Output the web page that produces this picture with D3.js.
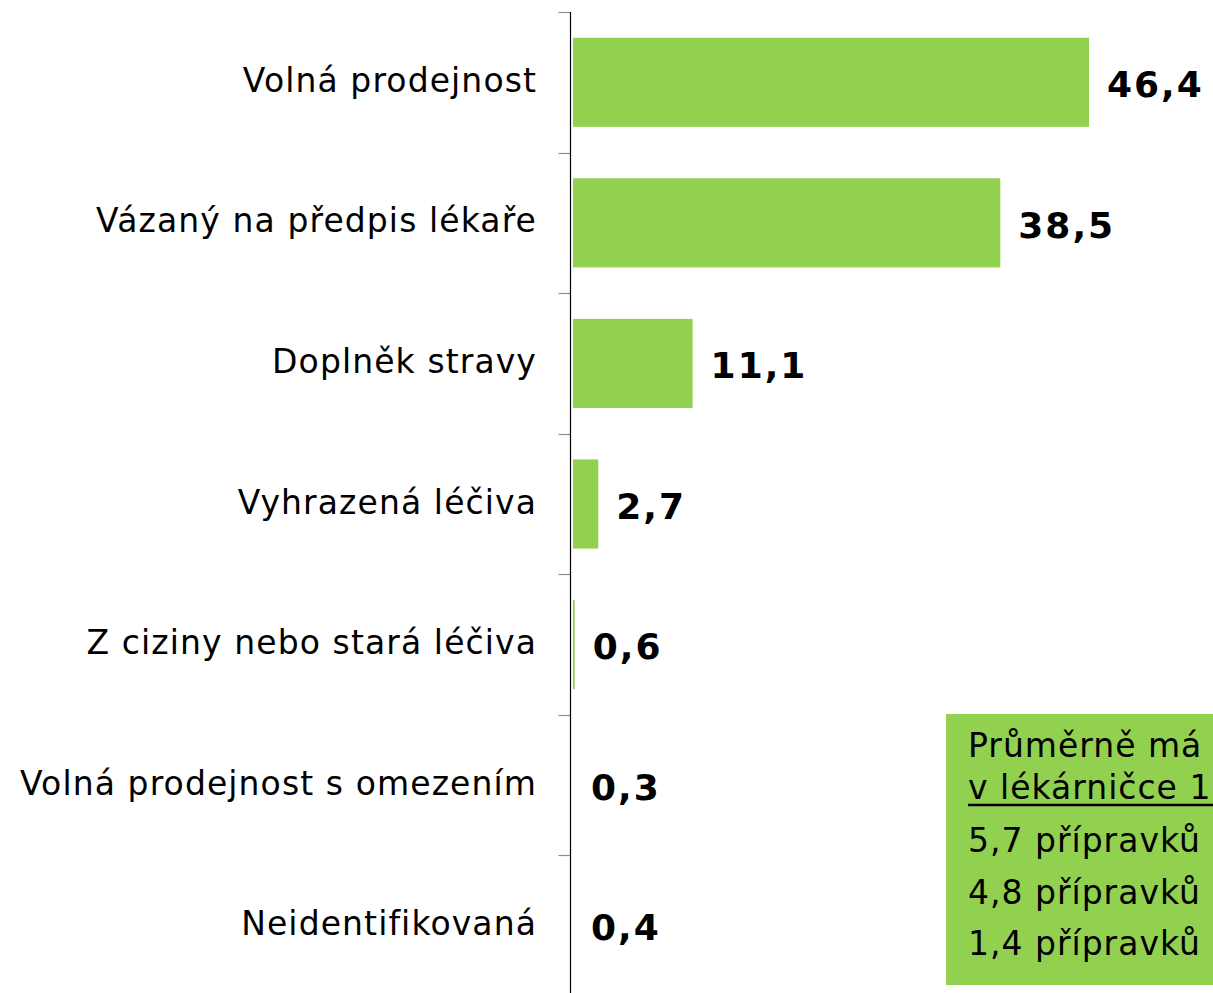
<!DOCTYPE html>
<html lang="cs">
<head>
<meta charset="utf-8">
<script src="https://cdn.jsdelivr.net/npm/d3@7/dist/d3.min.js"></script>
<style>
  html, body { margin: 0; padding: 0; background: #fff; overflow: hidden; }
  svg { display: block; }
</style>
</head>
<body>
<svg id="chart" width="1213" height="993"></svg>
<script>
// Kategorie léčiv v domácí lékárničce (podíl v %)
const categories = [
  "Volná prodejnost",
  "Vázaný na předpis lékaře",
  "Doplněk stravy",
  "Vyhrazená léčiva",
  "Z ciziny nebo stará léčiva",
  "Volná prodejnost s omezením",
  "Neidentifikovaná"
];
const values = [46.4, 38.5, 11.1, 2.7, 0.6, 0.3, 0.4];

// Poznámka v zeleném rámečku
const noteLines = [
  "Průměrně má",
  "v lékárničce 12",
  "5,7 přípravků",
  "4,8 přípravků",
  "1,4 přípravků"
];

const GREEN = "#92d050";
const FONT = "'DejaVu Sans', Verdana, sans-serif";

const svg = d3.select("#chart");
const fmt = d3.formatLocale({ decimal: ",", thousands: " ", grouping: [3], currency: ["", " Kč"] }).format(".1f");

const axisX = 570.5;
const y = d3.scaleBand()
  .domain(categories)
  .range([12, 996])
  .paddingInner(0.366)
  .paddingOuter(0.183);

// Osa hodnot nezačíná nulou, nejmenší položky proto nemají viditelný pruh
const x = d3.scaleLinear()
  .domain([0.45, d3.max(values)])
  .range([573, 1089])
  .clamp(true);

const step = y.step();
const half = y.bandwidth() / 2;

// Pruhy
svg.append("g").selectAll("rect")
  .data(values)
  .join("rect")
  .attr("x", x.range()[0])
  .attr("y", (d, i) => y(categories[i]))
  .attr("width", d => Math.max(0, x(d) - x.range()[0]))
  .attr("height", y.bandwidth())
  .attr("fill", GREEN);

// Svislá osa a dělicí značky mezi kategoriemi
const boundaries = categories.map(c => y(c) + half - step / 2).concat([y(categories[categories.length - 1]) + half + step / 2]);
svg.append("g").selectAll("line")
  .data(boundaries)
  .join("line")
  .attr("x1", axisX - 12).attr("x2", axisX)
  .attr("y1", d => Math.round(d) + 0.5).attr("y2", d => Math.round(d) + 0.5)
  .attr("stroke", "#8c8c8c")
  .attr("stroke-width", 1.2);

svg.append("line")
  .attr("x1", axisX).attr("x2", axisX)
  .attr("y1", boundaries[0]).attr("y2", 1000)
  .attr("stroke", "#000")
  .attr("stroke-width", 1.2);

// Popisky kategorií
svg.append("g").selectAll("text")
  .data(categories)
  .join("text")
  .attr("x", 537)
  .attr("y", d => y(d) + half)
  .attr("dy", "0.29em")
  .attr("text-anchor", "end")
  .attr("font-family", FONT)
  .attr("font-size", 33)
  .attr("letter-spacing", 1.1)
  .attr("fill", "#000")
  .text(d => d);

// Hodnoty
svg.append("g").selectAll("text")
  .data(values)
  .join("text")
  .attr("x", d => x(d) + 18)
  .attr("y", (d, i) => y(categories[i]) + half)
  .attr("dy", "0.41em")
  .attr("font-family", FONT)
  .attr("font-weight", "bold")
  .attr("font-size", 36)
  .attr("letter-spacing", 2)
  .attr("fill", "#000")
  .text(d => fmt(d));

// Zelený rámeček s poznámkou
const note = svg.append("g");
note.append("rect")
  .attr("x", 946).attr("y", 714)
  .attr("width", 300).attr("height", 271)
  .attr("fill", GREEN);

const noteBaselines = [757, 799, 852, 904, 955];
note.selectAll("text")
  .data(noteLines)
  .join("text")
  .attr("x", 968)
  .attr("y", (d, i) => noteBaselines[i])
  .attr("font-family", FONT)
  .attr("font-size", 33)
  .attr("letter-spacing", 1)
  .attr("fill", "#000")
  .text(d => d);

note.append("line")
  .attr("x1", 968).attr("x2", 1240)
  .attr("y1", 805).attr("y2", 805)
  .attr("stroke", "#000")
  .attr("stroke-width", 2.5);
</script>
</body>
</html>
